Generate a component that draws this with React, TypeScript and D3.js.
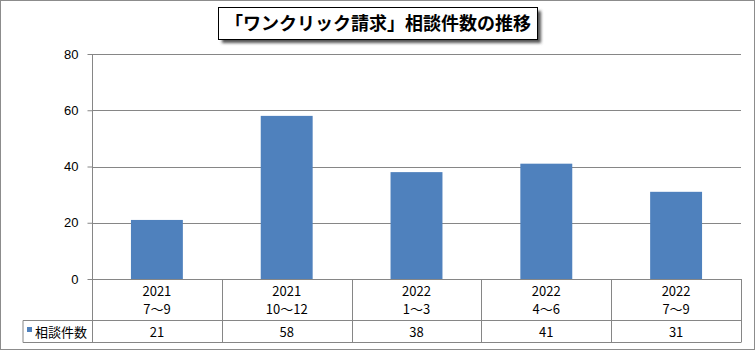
import React, { useEffect, useRef } from "react";
import * as d3 from "d3";

const years = ["2021", "2021", "2022", "2022", "2022"];
const periods = ["7～9", "10～12", "1～3", "4～6", "7～9"];
const counts = [21, 58, 38, 41, 31];
const yTicks = [0, 20, 40, 60, 80];
const seriesName = "相談件数";
const title = "「ワンクリック請求」相談件数の推移";

const W = 756;
const H = 351;
const left = 92;
const right = 741;
const top = 54;
const bottom = 279;
const headBottom = 320.5;
const tableBottom = 342.5;
const legendLeft = 23;
const blue = "#4F81BD";
const gridColor = "#868686";
const jpFont = "'Noto Sans CJK JP', 'Noto Sans', sans-serif";

const App: React.FC = () => {
  const svgRef = useRef<SVGSVGElement | null>(null);

  useEffect(() => {
    if (!svgRef.current) return;
    const svg = d3.select(svgRef.current);
    svg.selectAll("*").remove();

    const idx = counts.map((_, i) => String(i));
    const x = d3.scaleBand().domain(idx).range([left, right]).paddingInner(0).paddingOuter(0);
    const y = d3.scaleLinear().domain([0, 80]).range([bottom, top]);

    // outer frame
    svg
      .append("rect")
      .attr("x", 0.5)
      .attr("y", 0.5)
      .attr("width", W - 2)
      .attr("height", H - 2)
      .attr("fill", "#fff")
      .attr("stroke", "#8c8c8c");

    // gridlines
    svg
      .append("g")
      .selectAll("line")
      .data(yTicks.filter((d) => d > 0))
      .join("line")
      .attr("x1", left)
      .attr("x2", right)
      .attr("y1", (d) => Math.round(y(d)) + 0.5)
      .attr("y2", (d) => Math.round(y(d)) + 0.5)
      .attr("stroke", gridColor);

    // y axis
    const yAxis = svg
      .append("g")
      .attr("transform", `translate(${left + 0.5},0)`)
      .call(d3.axisLeft(y).tickValues(yTicks).tickSize(5).tickPadding(9));
    yAxis.select(".domain").remove();
    yAxis.selectAll("line").attr("stroke", gridColor);
    yAxis
      .selectAll("text")
      .attr("font-family", "'Liberation Sans', Arial, sans-serif")
      .attr("font-size", 13)
      .attr("fill", "#000");

    // bars
    const bw = x.bandwidth() * 0.4;
    svg
      .append("g")
      .selectAll("rect")
      .data(counts)
      .join("rect")
      .attr("x", (_, i) => x(String(i))! + (x.bandwidth() - bw) / 2)
      .attr("width", bw)
      .attr("y", (d) => y(d))
      .attr("height", (d) => bottom - y(d))
      .attr("fill", blue);

    // axis lines & table
    const g = svg.append("g").attr("stroke", gridColor).attr("fill", "none");
    g.append("line").attr("x1", left + 0.5).attr("x2", left + 0.5).attr("y1", top).attr("y2", tableBottom);
    g.append("line").attr("x1", left).attr("x2", right).attr("y1", bottom + 0.5).attr("y2", bottom + 0.5);
    g.append("line").attr("x1", legendLeft).attr("x2", right).attr("y1", headBottom).attr("y2", headBottom);
    g.append("line").attr("x1", legendLeft).attr("x2", right).attr("y1", tableBottom).attr("y2", tableBottom);
    g.append("line").attr("x1", legendLeft).attr("x2", legendLeft).attr("y1", headBottom).attr("y2", tableBottom);
    g.selectAll("line.sep")
      .data(idx)
      .join("line")
      .attr("class", "sep")
      .attr("x1", (d) => Math.round(x(d)! + x.bandwidth()) + 0.5)
      .attr("x2", (d) => Math.round(x(d)! + x.bandwidth()) + 0.5)
      .attr("y1", bottom)
      .attr("y2", tableBottom);

    const cx = (i: number) => x(String(i))! + x.bandwidth() / 2;
    const txt = svg
      .append("g")
      .attr("font-family", jpFont)
      .attr("font-size", 13)
      .attr("fill", "#000")
      .attr("text-anchor", "middle");
    txt.selectAll("text.yr").data(years).join("text").attr("class", "yr")
      .attr("x", (_, i) => cx(i)).attr("y", 295.5).text((d) => d);
    txt.selectAll("text.pd").data(periods).join("text").attr("class", "pd")
      .attr("x", (_, i) => cx(i)).attr("y", 314).text((d) => d);
    txt.selectAll("text.val").data(counts).join("text").attr("class", "val")
      .attr("x", (_, i) => cx(i)).attr("y", 336.5).text((d) => d);

    // legend
    svg.append("rect").attr("x", 27).attr("y", 327).attr("width", 5).attr("height", 5).attr("fill", blue);
    svg
      .append("text")
      .attr("x", 35)
      .attr("y", 336.5)
      .attr("font-family", jpFont)
      .attr("font-size", 13)
      .attr("fill", "#000")
      .text(seriesName);

    // title box with shadow
    svg.append("defs").append("filter").attr("id", "sh").attr("x", "-10%").attr("y", "-30%")
      .attr("width", "130%").attr("height", "180%")
      .append("feGaussianBlur").attr("stdDeviation", 1.5);
    svg.append("rect").attr("x", 222).attr("y", 11).attr("width", 319).attr("height", 32)
      .attr("fill", "#555").attr("filter", "url(#sh)");
    svg.append("rect").attr("x", 218.5).attr("y", 7.5).attr("width", 319).attr("height", 32)
      .attr("fill", "#fff").attr("stroke", "#000");
    svg
      .append("text")
      .attr("x", 378)
      .attr("y", 30)
      .attr("text-anchor", "middle")
      .attr("font-family", jpFont)
      .attr("font-weight", "bold")
      .attr("font-size", 18)
      .attr("fill", "#000")
      .text(title);
  }, []);

  return (
    <svg
      ref={svgRef}
      width={W}
      height={H}
      style={{ position: "absolute", left: 0, top: 0, display: "block" }}
    />
  );
};

export default App;
